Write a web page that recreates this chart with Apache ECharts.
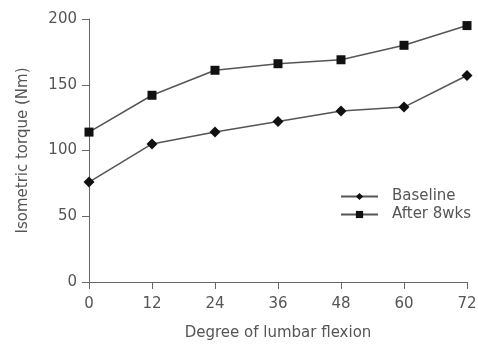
<!DOCTYPE html>
<html>
<head>
<meta charset="utf-8" />
<title>lumbar flexion</title>
<style>
  html, body { margin: 0; padding: 0; background: #fff; }
  #chartBox { width: 478px; height: 345px; }
</style>
</head>
<body>
<div id="chartBox"></div>
<script src="https://cdn.jsdelivr.net/npm/echarts@6/dist/echarts.min.js"></script>
<script>
var degrees = [0, 12, 24, 36, 48, 60, 72];
var baseline = [76, 105, 114, 122, 130, 133, 157];
var after8wks = [114, 142, 161, 166, 169, 180, 195];
var seriesNames = ['Baseline', 'After 8wks'];

var _font = '"DejaVu Sans", sans-serif';
var _txt = '#555';

function pairs(xs, ys) {
  var out = [];
  for (var i = 0; i < xs.length; i++) out.push([xs[i], ys[i]]);
  return out;
}

var myChart = echarts.init(document.getElementById('chartBox'));
var option = {
  animation: false,
  grid: { left: 89, right: 11, top: 19, bottom: 63, containLabel: false, outerBoundsMode: 'none' },
  legend: {
    orient: 'vertical',
    left: 335,
    top: 184,
    itemWidth: 37,
    itemHeight: 9,
    itemGap: 3,
    textStyle: { fontFamily: _font, fontSize: 15, color: _txt, padding: [0, 0, 0, 9] },
    data: seriesNames
  },
  xAxis: {
    type: 'value',
    min: 0, max: 72, interval: 12,
    name: 'Degree of lumbar flexion',
    nameLocation: 'middle',
    nameGap: 44,
    nameTextStyle: { fontFamily: _font, fontSize: 15, color: _txt },
    axisLine: { lineStyle: { color: '#666', width: 1 } },
    axisTick: { length: 7, lineStyle: { color: '#666' } },
    axisLabel: { fontFamily: _font, fontSize: 15, color: _txt, margin: 15 },
    splitLine: { show: false }
  },
  yAxis: {
    type: 'value',
    min: 0, max: 200, interval: 50,
    name: 'Isometric torque (Nm)',
    nameLocation: 'middle',
    nameGap: 58,
    nameTextStyle: { fontFamily: _font, fontSize: 15, color: _txt },
    axisLine: { show: true, lineStyle: { color: '#666', width: 1 } },
    axisTick: { show: true, length: 7, lineStyle: { color: '#666' } },
    axisLabel: { fontFamily: _font, fontSize: 15, color: _txt, margin: 12 },
    splitLine: { show: false }
  },
  series: [
    {
      name: seriesNames[0],
      type: 'line',
      symbol: 'diamond',
      symbolSize: 11,
      itemStyle: { color: '#111' },
      lineStyle: { color: '#555', width: 1.5 },
      data: pairs(degrees, baseline)
    },
    {
      name: seriesNames[1],
      type: 'line',
      symbol: 'rect',
      symbolSize: 9,
      itemStyle: { color: '#111' },
      lineStyle: { color: '#555', width: 1.5 },
      data: pairs(degrees, after8wks)
    }
  ]
};
myChart.setOption(option);
</script>
</body>
</html>
